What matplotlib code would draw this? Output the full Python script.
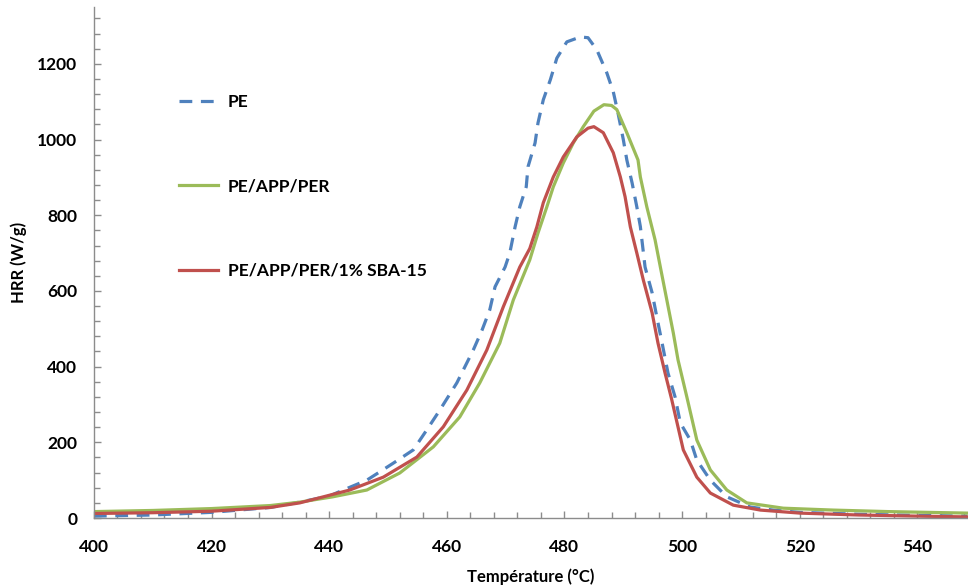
import matplotlib.pyplot as plt
from matplotlib.ticker import MultipleLocator

# PE
t_pe = [400, 410, 420, 430, 435, 440, 442.4, 446.4, 450.9, 454.3, 456.6, 458.8, 461.7, 464.5,
        466, 467.3, 468.2, 469.9, 470.7, 471.6, 472.4, 473.5, 473.8, 475, 475.5, 476.4, 477.6,
        478.7, 480.4, 482.7, 484, 485.5, 487.2, 488.3, 489.1, 490, 490.6, 491.5, 492.3, 492.9,
        493.7, 494.9, 495.7, 496.6, 497.6, 498.8, 499.7, 501.4, 502.5, 504.8, 507.6, 511.6,
        515.5, 520, 530, 540, 548.5]
hrr_pe = [5, 8, 15, 28, 42, 58, 74, 100, 145, 180, 233, 285, 357, 444,
          497, 550, 611, 663, 700, 769, 822, 875, 928, 991, 1044, 1105, 1158,
          1215, 1258, 1271, 1269, 1237, 1176, 1126, 1070, 1000, 946, 885, 822, 770,
          663, 595, 531, 462, 383, 320, 251, 206, 153, 100, 56, 29,
          21, 15, 10, 7, 5]

# PE/APP/PER
t_app = [400, 410, 420, 430, 435, 440.6, 446.4, 452, 457.7, 462.2, 465.6, 469, 471.3, 474.1,
         475.5, 477, 478.1, 479.8, 481.5, 483.2, 485, 486.7, 488, 488.9, 490.6, 492.5, 492.9,
         494, 495.4, 496.3, 497.4, 498.5, 499.3, 500.8, 502.5, 504.8, 507.6, 511, 517.2, 525.7,
         535, 548.5]
hrr_app = [17, 20, 25, 33, 42, 56, 74, 119, 188, 267, 357, 462, 576, 682,
           753, 822, 875, 938, 991, 1034, 1075, 1092, 1090, 1079, 1018, 946, 901,
           822, 735, 663, 576, 489, 418, 320, 206, 127, 74, 40, 26, 21,
           17, 13]

# PE/APP/PER/1% SBA-15
t_sba = [400, 410, 420, 430, 435, 443.5, 449.2, 454.9, 459.4, 463.4, 466.8, 469.6, 472.4,
         474.1, 475.3, 476.4, 478.1, 479.8, 482.1, 484, 485, 486.6, 488.3, 489.5, 490.3, 491.2,
         492.3, 493.4, 494.9, 495.9, 497.1, 498.2, 500.2, 502.5, 504.8, 508.7, 513.3, 520, 530,
         540, 548.5]
hrr_sba = [12, 14, 18, 28, 40, 74, 108, 161, 241, 338, 444, 558, 663,
           712, 769, 833, 901, 954, 1007, 1030, 1034, 1018, 965, 901, 849, 769,
           700, 629, 542, 462, 383, 315, 180, 108, 66, 34, 21, 13, 8,
           5, 3]

plt.rcParams['font.family'] = ['Lato', 'DejaVu Sans']
plt.rcParams['font.weight'] = 'bold'

fig = plt.figure(figsize=(9.68, 5.87), dpi=100)
ax = fig.add_axes([0.097, 0.1175, 0.903, 0.8705])

ax.plot(t_pe, hrr_pe, color='#4F81BD', lw=2.3, dashes=(4, 2.7), label='PE')
ax.plot(t_app, hrr_app, color='#9BBB59', lw=2.3, label='PE/APP/PER')
ax.plot(t_sba, hrr_sba, color='#C0504D', lw=2.3, label='PE/APP/PER/1% SBA-15')

ax.set_xlim(400, 548.6)
ax.set_ylim(0, 1350)
ax.xaxis.set_major_locator(MultipleLocator(20))
ax.xaxis.set_minor_locator(MultipleLocator(4))
ax.yaxis.set_major_locator(MultipleLocator(200))
ax.yaxis.set_minor_locator(MultipleLocator(40))

gray = '#8C8C8C'
for s in ['top', 'right']:
    ax.spines[s].set_visible(False)
for s in ['left', 'bottom']:
    ax.spines[s].set_color(gray)
    ax.spines[s].set_linewidth(1)
ax.tick_params(which='both', direction='in', color=gray, width=1, labelsize=12.5)
ax.tick_params(which='major', length=5)
ax.tick_params(which='minor', length=4)
ax.tick_params(axis='y', pad=12)
ax.tick_params(axis='x', pad=15)

ax.set_xlabel('Température (°C)', fontsize=12, fontweight='bold', labelpad=10)
ax.set_ylabel('HRR (W/g)', fontsize=12, fontweight='bold', labelpad=7)

ax.legend(loc='upper left', bbox_to_anchor=(0.08, 0.861), frameon=False, fontsize=12.5,
          handlelength=2.2, handletextpad=0.6, labelspacing=3.95)

fig.savefig('out.png', dpi=100)
